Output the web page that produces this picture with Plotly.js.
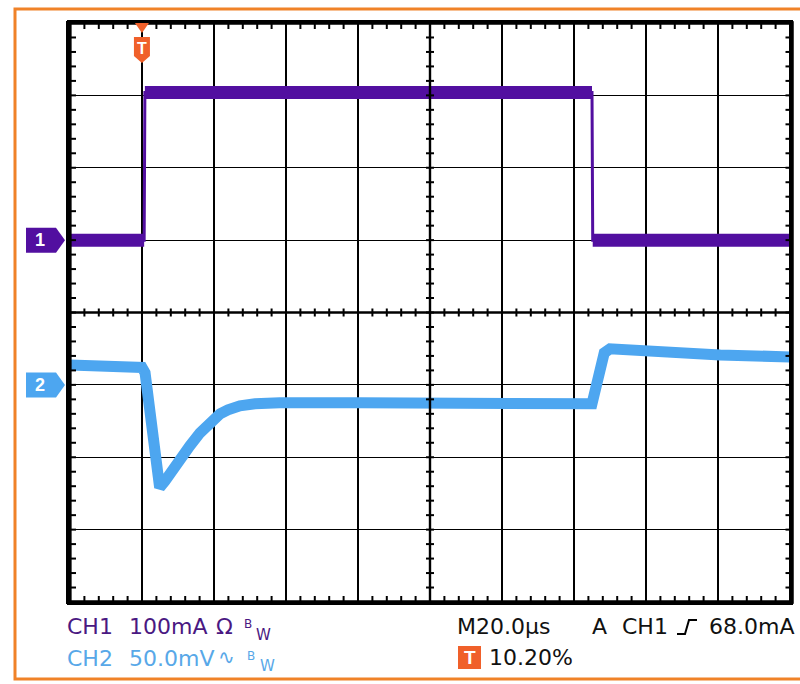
<!DOCTYPE html>
<html><head><meta charset="utf-8">
<script src="https://cdn.plot.ly/plotly-3.0.1.min.js"></script>
<style>html,body{margin:0;padding:0;background:#fff;overflow:hidden;} #chart{width:800px;height:684px;}</style>
</head><body><div id="chart"></div>
<script>
// ---------- data (time in µs relative to trigger) ----------
const ch1TimeUs    = [-20.4, 0.2, 0.4, 124.6, 124.8, 179.6];
const ch1CurrentMa = [0, 0, 204, 204, 0, 0];

const ch2TimeUs    = [-20.4, -10, -0.4, 0.45, 4.5, 6.0, 7.9, 10.2, 12.9, 15.7, 17.7, 19.3, 21.3, 23.5, 26.8, 31.0, 37.9, 60, 90, 110, 124.6, 125.4, 126.3, 127.1, 128.0, 129.6, 140.7, 160.2, 179.6];
const ch2VoltageMv = [13.8, 13.0, 12.0, 8.3, -71.0, -66.3, -58.7, -51.8, -42.1, -33.2, -27.6, -23.5, -20.0, -17.3, -14.5, -13.1, -12.4, -12.4, -12.4, -12.8, -13.1, -4.8, 6.9, 17.3, 22.1, 24.9, 22.8, 20.7, 19.3];

// ---------- scope settings ----------
const timePerDivUs = 20, triggerPct = 10.2, divX = 10, divY = 8;
const ch1PerDivMa = 100, ch1GroundDivFromTop = 3;
const ch2PerDivMv = 50,  ch2GroundDivFromTop = 5;

const statusCh1 = ['CH1', '100mA', 'Ω'];
const statusCh2 = ['CH2', '50.0mV', '∿'];
const statusTime = 'M20.0µs';
const statusTrig = ['A', 'CH1', '68.0mA'];
const statusTrigPos = '10.20%';

const xStart = -triggerPct / 100 * divX * timePerDivUs;
const xEnd = xStart + divX * timePerDivUs;
const y1Range = [-(divY - ch1GroundDivFromTop) * ch1PerDivMa, ch1GroundDivFromTop * ch1PerDivMa];
const y2Range = [-(divY - ch2GroundDivFromTop) * ch2PerDivMv, ch2GroundDivFromTop * ch2PerDivMv];

const L = 70, T = 23, W = 720, H = 579;
const px = x => (x - L) / W;
const py = y => (T + H - y) / H;

const PURPLE = '#520FA0', BLUE = '#4DA6F0', ORANGE = '#F08228', TORANGE = '#F0602A';
const FONT = 'DejaVu Sans, Verdana, sans-serif';

function flatSegments(t, v) {
  const xs = [], ys = [];
  for (let i = 0; i < t.length - 1; i++) {
    if (v[i] === v[i + 1]) { xs.push(t[i], t[i + 1], null); ys.push(v[i], v[i + 1], null); }
  }
  return {xs, ys};
}
const ch1Flat = flatSegments(ch1TimeUs, ch1CurrentMa);

const traces = [
  {x: ch2TimeUs, y: ch2VoltageMv, yaxis: 'y2', mode: 'lines', line: {color: BLUE, width: 11}, hoverinfo: 'skip'},
  {x: ch1TimeUs, y: ch1CurrentMa, mode: 'lines', line: {color: PURPLE, width: 3}, hoverinfo: 'skip'},
  {x: ch1Flat.xs, y: ch1Flat.ys, mode: 'lines', connectgaps: false, line: {color: PURPLE, width: 13}, hoverinfo: 'skip'}
];

const shapes = [];
const blk = w => ({color: 'black', width: w});
const pline = (x0, y0, x1, y1, w) => ({type: 'line', xref: 'paper', yref: 'paper', x0, y0, x1, y1, line: blk(w), layer: 'above'});
// outer orange frame (right side lies beyond the picture)
shapes.push({type: 'path', xref: 'paper', yref: 'paper',
  path: `M ${px(800)},${py(9)} L ${px(15)},${py(9)} L ${px(15)},${py(679)} L ${px(800)},${py(679)}`,
  line: {color: ORANGE, width: 3}, layer: 'above'});
// black graticule frame as a filled ring (outer minus inner rectangle)
shapes.push({type: 'path', xref: 'paper', yref: 'paper',
  path: `M ${px(66)},${py(21)} L ${px(793.5)},${py(21)} L ${px(793.5)},${py(604)} L ${px(66)},${py(604)} Z ` +
        `M ${px(71.5)},${py(24.5)} L ${px(71.5)},${py(600.5)} L ${px(789)},${py(600.5)} L ${px(789)},${py(24.5)} Z`,
  fillcolor: 'black', line: {width: 0}, layer: 'above'});
// centre cross lines
shapes.push(pline(0.5, 0, 0.5, 1, 2.4));
shapes.push(pline(0, 0.5, 1, 0.5, 2.4));
// graticule minor ticks: centre lines (both sides) and frame (inside)
const tl = 6, ct = 4;
const xRight = px(791.5);
for (let k = 1; k < divX * 5; k++) {
  const x = k / (divX * 5);
  shapes.push(pline(x, 0.5 - ct / H, x, 0.5 + ct / H, 2));
  shapes.push(pline(x, 0, x, tl / H, 2));
  shapes.push(pline(x, 1 - tl / H, x, 1, 2));
}
for (let k = 1; k < divY * 5; k++) {
  const y = k / (divY * 5);
  shapes.push(pline(0.5 - ct / W, y, 0.5 + ct / W, y, 2));
  shapes.push(pline(0, y, tl / W, y, 2));
  shapes.push(pline(xRight - tl / W, y, xRight, y, 2));
}
// graticule frame lines
shapes.push(pline(-1 / W, -1.5 / H, -1 / W, 1 + 1.5 / H, 4.5));
shapes.push(pline(xRight, -1.5 / H, xRight, 1 + 1.5 / H, 4));
shapes.push(pline(0, 1, xRight, 1, 3));
shapes.push(pline(0, 0, xRight, 0, 3));

// trigger position marker (top)
const c = -1.5;
shapes.push({type: 'path', xref: 'x', xsizemode: 'pixel', xanchor: 0, yref: 'paper',
  path: `M ${c-7},${py(23)} L ${c+7},${py(23)} L ${c},${py(33)} Z`, fillcolor: TORANGE, line: {width: 0}, layer: 'above'});
shapes.push({type: 'path', xref: 'x', xsizemode: 'pixel', xanchor: 0, yref: 'paper',
  path: `M ${c-8},${py(37)} L ${c+8},${py(37)} L ${c+8},${py(56)} L ${c},${py(63)} L ${c-8},${py(56)} Z`, fillcolor: TORANGE, line: {width: 0}, layer: 'above'});
// channel ground markers
function chMarker(yref, color) {
  return {type: 'path', xref: 'paper', yref: yref, ysizemode: 'pixel', yanchor: 0,
    path: `M ${px(26)},12.5 L ${px(56)},12.5 L ${px(65)},0 L ${px(56)},-12.5 L ${px(26)},-12.5 Z`,
    fillcolor: color, line: {width: 0}, layer: 'above'};
}
shapes.push(chMarker('y', PURPLE));
shapes.push(chMarker('y2', BLUE));
// trigger-position square at bottom
shapes.push({type: 'rect', xref: 'paper', yref: 'paper', x0: px(458), x1: px(481), y0: py(669), y1: py(646),
  fillcolor: TORANGE, line: {width: 0}, layer: 'above'});
// rising-edge trigger symbol
shapes.push({type: 'path', xref: 'paper', yref: 'paper',
  path: `M ${px(677)},${py(634)} L ${px(685)},${py(634)} L ${px(689)},${py(620)} L ${px(697)},${py(620)}`,
  line: blk(2), layer: 'above'});

const annotations = [];
function txt(text, x, y, color, size, extra) {
  annotations.push(Object.assign({text: text, xref: 'paper', yref: 'paper', x: px(x), y: py(y), xanchor: 'left', yanchor: 'middle',
    showarrow: false, borderpad: 0, borderwidth: 0, font: {family: FONT, size: size, color: color}}, extra || {}));
}
const CH1TXT = '#4A1882', CH2TXT = '#58A8E8';
txt(statusCh1[0], 67, 626, CH1TXT, 22);
txt(statusCh1[1], 129, 626, CH1TXT, 22);
txt(statusCh1[2], 216, 626, CH1TXT, 22);
txt('B', 244, 624, CH1TXT, 12);
txt('W', 256, 635, CH1TXT, 15);
txt(statusCh2[0], 67, 658, CH2TXT, 22);
txt(statusCh2[1], 129, 658, CH2TXT, 22);
txt(statusCh2[2], 218, 657, CH2TXT, 20);
txt('B', 247, 656, CH2TXT, 12);
txt('W', 260, 666, CH2TXT, 15);
txt(statusTime, 457, 626, '#111', 22);
txt(statusTrig[0], 592, 626, '#111', 22);
txt(statusTrig[1], 622, 626, '#111', 22);
txt(statusTrig[2], 709, 626, '#111', 22);
txt(statusTrigPos, 489, 657, '#111', 22);
const BFONT = 'Liberation Sans, Arial, sans-serif';
annotations.push({text: 'T', xref: 'paper', yref: 'paper', x: px(469.5), y: py(657.5), xanchor: 'center', yanchor: 'middle', showarrow: false,
  font: {family: BFONT, size: 19, color: 'white', weight: 'bold'}});
annotations.push({text: 'T', xref: 'x', x: 0, xshift: c, yref: 'paper', y: py(48), xanchor: 'center', yanchor: 'middle', showarrow: false,
  font: {family: BFONT, size: 16, color: 'white', weight: 'bold'}});
annotations.push({text: '1', xref: 'paper', x: px(40), yref: 'y', y: 0, xanchor: 'center', yanchor: 'middle', showarrow: false,
  font: {family: BFONT, size: 18, color: 'white', weight: 'bold'}});
annotations.push({text: '2', xref: 'paper', x: px(40), yref: 'y2', y: 0, xanchor: 'center', yanchor: 'middle', showarrow: false,
  font: {family: BFONT, size: 18, color: 'white', weight: 'bold'}});

const axisCommon = {showgrid: true, gridcolor: 'black', gridwidth: 1.2, zeroline: false,
  showline: true, mirror: true, linecolor: 'black', linewidth: 3,
  ticks: '', showticklabels: false, fixedrange: true};

const layout = {
  width: 800, height: 684, margin: {l: L, r: 800 - L - W, t: T, b: 684 - T - H, pad: 0},
  paper_bgcolor: 'white', plot_bgcolor: 'white', showlegend: false, hovermode: false,
  xaxis: Object.assign({}, axisCommon, {range: [xStart, xEnd], tick0: xStart, dtick: timePerDivUs}),
  yaxis: Object.assign({}, axisCommon, {range: y1Range, tick0: 0, dtick: ch1PerDivMa}),
  yaxis2: {overlaying: 'y', range: y2Range, visible: false, fixedrange: true},
  shapes: shapes, annotations: annotations
};

Plotly.newPlot('chart', traces, layout, {displayModeBar: false, staticPlot: true});
</script></body></html>
